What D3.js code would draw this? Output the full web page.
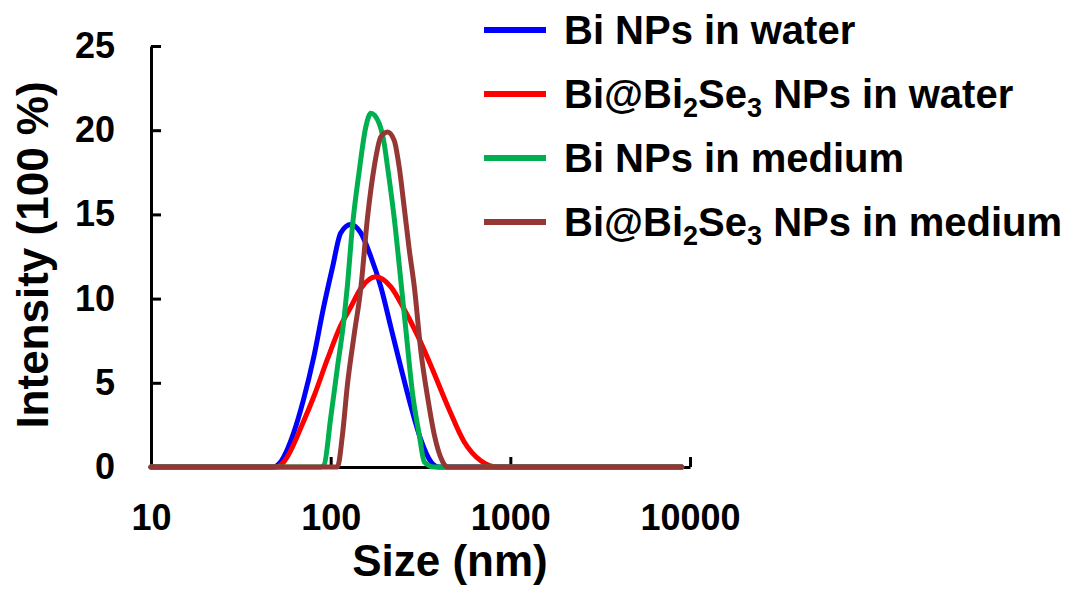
<!DOCTYPE html>
<html>
<head>
<meta charset="utf-8">
<script src="https://cdn.jsdelivr.net/npm/d3@7"></script>
<style>
  html, body { margin: 0; padding: 0; background: #fff; }
  svg { display: block; }
  text { font-family: "Liberation Sans", Arial, sans-serif; font-weight: bold; fill: #000; }
</style>
</head>
<body>
<svg id="chart" width="1067" height="590"></svg>
<script>
// ---- Data (size in nm, intensity in %) ----
const blueSize   = [10, 48, 52.6, 62.1, 70.6, 80.4, 91.4, 102.6, 113.7, 129.4, 147.1, 167.2, 190.2, 216.3, 246.0, 279.8, 318.2, 362.0, 400, 9000];
const blueInt    = [0, 0, 0.3, 2.0, 4.0, 6.5, 9.5, 11.9, 13.9, 14.4, 13.9, 12.5, 10.7, 8.3, 5.9, 3.6, 1.6, 0.3, 0, 0];

const redSize    = [10, 50, 54.8, 70.6, 80.7, 95.9, 113.7, 129.4, 147.1, 178.3, 216.3, 255.6, 304.8, 362, 448.7, 553, 688, 835, 9000];
const redInt     = [0, 0, 0.3, 2.7, 4.2, 6.4, 8.4, 9.5, 10.6, 11.3, 10.7, 9.4, 7.8, 6.0, 3.6, 1.5, 0.35, 0, 0];

const greenSize  = [10, 88, 91.8, 100, 109, 118.7, 124, 132.2, 143.9, 156.9, 167.3, 186.2, 198.6, 207.4, 225.7, 246.1, 262.4, 286.1, 311.4, 332, 376, 9000];
const greenInt   = [0, 0, 0.1, 2.9, 5.9, 8.8, 10.8, 14.3, 17.5, 20.2, 21.0, 20.4, 19.2, 17.8, 14.8, 11.0, 8.1, 4.3, 1.9, 0.3, 0, 0];

const brownSize  = [10, 109, 116.3, 124, 134.9, 147.1, 160.3, 174.6, 190.2, 207.4, 225.7, 240.8, 256.7, 273.8, 292.1, 318.3, 346.9, 377.6, 420.7, 448.7, 9000];
const brownInt   = [0, 0, 1.9, 4.9, 7.8, 10.6, 14.8, 17.8, 19.6, 19.9, 19.4, 17.8, 15.4, 12.9, 10.7, 6.8, 4.1, 1.9, 0.3, 0, 0];

const seriesNames  = ["Bi NPs in water", "Bi@Bi2Se3 NPs in water", "Bi NPs in medium", "Bi@Bi2Se3 NPs in medium"];
const seriesColors = ["#0000FF", "#FF0000", "#00B050", "#953735"];

const xTickValues = [10, 100, 1000, 10000];
const yTickValues = [0, 5, 10, 15, 20, 25];
const xTitle = "Size (nm)";
const yTitle = "Intensity (100 %)";

// ---- Layout ----
const svg = d3.select("#chart");
const x = d3.scaleLog().domain([10, 10000]).range([151, 690]);
const y = d3.scaleLinear().domain([0, 25]).range([467, 46]);

const series = [
  {name: seriesNames[0], color: seriesColors[0], size: blueSize,  val: blueInt},
  {name: seriesNames[1], color: seriesColors[1], size: redSize,   val: redInt},
  {name: seriesNames[2], color: seriesColors[2], size: greenSize, val: greenInt},
  {name: seriesNames[3], color: seriesColors[3], size: brownSize, val: brownInt}
];

// Axes
const yAxis = d3.axisLeft(y).tickValues(yTickValues).tickSizeInner(-10).tickSizeOuter(0).tickPadding(36);
const gy = svg.append("g").attr("transform", `translate(${x.range()[0]},0)`).call(yAxis);
gy.selectAll("text").style("font-size", "36px");

const xAxis = d3.axisBottom(x).tickValues(xTickValues).tickFormat(d3.format("d")).tickSizeInner(-10).tickSizeOuter(0).tickPadding(37);
const gx = svg.append("g").attr("transform", `translate(0,${y(0)})`).call(xAxis);
gx.selectAll("text").style("font-size", "36px");

[gx, gy].forEach(g => {
  g.selectAll("path.domain").attr("stroke", "#000").attr("stroke-width", 3);
  g.selectAll(".tick line").attr("stroke", "#000").attr("stroke-width", 3);
});
gx.selectAll(".tick").filter(d => d === 10).select("line").remove();
gy.selectAll(".tick").filter(d => d === 0).select("line").remove();

// Lines
const line = d3.line().x(d => x(d[0])).y(d => y(d[1])).curve(d3.curveMonotoneX);
series.forEach(s => {
  const pts = s.size.map((v, i) => [v, s.val[i]]);
  svg.append("path").datum(pts)
    .attr("d", line)
    .attr("fill", "none")
    .attr("stroke", s.color)
    .attr("stroke-width", 5)
    .attr("stroke-linejoin", "round")
    .attr("stroke-linecap", "round");
});

// Axis titles
svg.append("text").attr("x", 450).attr("y", 576).attr("text-anchor", "middle")
  .style("font-size", "44px").text(xTitle);
svg.append("text").attr("transform", "translate(48,255) rotate(-90)").attr("text-anchor", "middle")
  .style("font-size", "44px").text(yTitle);

// Legend
const legend = svg.append("g");
series.forEach((s, i) => {
  const ly = 30 + i * 64;
  legend.append("line").attr("x1", 484).attr("x2", 546).attr("y1", ly).attr("y2", ly)
    .attr("stroke", s.color).attr("stroke-width", 6);
  const t = legend.append("text").attr("x", 564).attr("y", ly + 14).style("font-size", "40px");
  const m = s.name.match(/^(Bi@Bi)2(Se)3(.*)$/);
  if (m) {
    t.append("tspan").text(m[1]);
    t.append("tspan").attr("dy", 9).style("font-size", "27px").text("2");
    t.append("tspan").attr("dy", -9).text(m[2]);
    t.append("tspan").attr("dy", 9).style("font-size", "27px").text("3");
    t.append("tspan").attr("dy", -9).text(m[3]);
  } else {
    t.text(s.name);
  }
});
</script>
</body>
</html>
